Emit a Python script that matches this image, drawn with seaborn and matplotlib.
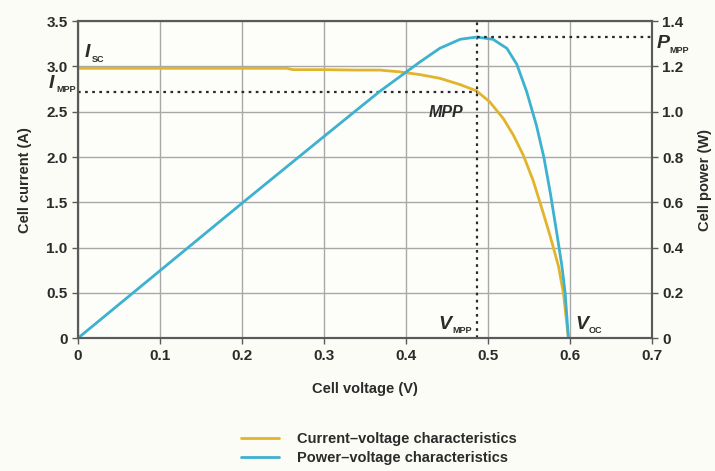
import matplotlib
matplotlib.use("Agg")
import matplotlib.pyplot as plt
import seaborn as sns
import pandas as pd

# ---- data ----
iv_voltage = [0, 0.1, 0.2, 0.255, 0.262, 0.3, 0.34, 0.368, 0.393, 0.417, 0.441, 0.466, 0.486,
              0.502, 0.519, 0.531, 0.543, 0.555, 0.565, 0.576, 0.586, 0.592, 0.598]
iv_current = [2.98, 2.98, 2.98, 2.98, 2.965, 2.965, 2.96, 2.96, 2.94, 2.91, 2.87, 2.80, 2.73,
              2.61, 2.42, 2.24, 2.02, 1.74, 1.45, 1.12, 0.79, 0.49, 0.0]

pv_voltage = [0, 0.1, 0.2, 0.3, 0.344, 0.368, 0.40, 0.417, 0.441, 0.466, 0.486, 0.506, 0.523,
              0.535, 0.547, 0.559, 0.568, 0.576, 0.584, 0.590, 0.594, 0.598]
pv_power = [0, 0.298, 0.596, 0.891, 1.02, 1.09, 1.175, 1.22, 1.28, 1.32, 1.33, 1.32, 1.28,
            1.21, 1.09, 0.94, 0.80, 0.64, 0.46, 0.32, 0.20, 0.0]

v_mpp = 0.486
i_mpp = 2.72
p_mpp = 1.33

x_ticks = [0, 0.1, 0.2, 0.3, 0.4, 0.5, 0.6, 0.7]
x_tick_labels = ["0", "0.1", "0.2", "0.3", "0.4", "0.5", "0.6", "0.7"]
i_ticks = [0, 0.5, 1.0, 1.5, 2.0, 2.5, 3.0, 3.5]
i_tick_labels = ["0", "0.5", "1.0", "1.5", "2.0", "2.5", "3.0", "3.5"]
p_ticks = [0, 0.2, 0.4, 0.6, 0.8, 1.0, 1.2, 1.4]
p_tick_labels = ["0", "0.2", "0.4", "0.6", "0.8", "1.0", "1.2", "1.4"]

iv_label = "Current\u2013voltage characteristics"
pv_label = "Power\u2013voltage characteristics"

# ---- style ----
sns.set_style("ticks")
FONT = ["Liberation Sans Narrow", "Liberation Sans", "DejaVu Sans"]
plt.rcParams["font.family"] = FONT
plt.rcParams["font.weight"] = "bold"

YELLOW = "#e2b42c"
BLUE = "#3db1d0"
GRID = "#a8a8a8"
SPINE = "#5a5a5a"
TXT = "#2b2b2b"
BG = "#fcfcf6"

fig = plt.figure(figsize=(7.15, 4.71), dpi=100, facecolor=BG)
ax = fig.add_axes([0.109, 0.282, 0.803, 0.673])
ax.set_facecolor("#fdfdf9")
ax2 = ax.twinx()

iv_df = pd.DataFrame({"V": iv_voltage, "I": iv_current})
pv_df = pd.DataFrame({"V": pv_voltage, "P": pv_power})

sns.lineplot(data=iv_df, x="V", y="I", ax=ax, color=YELLOW, linewidth=2.0,
             sort=False, label=iv_label, legend=False)
sns.lineplot(data=pv_df, x="V", y="P", ax=ax2, color=BLUE, linewidth=2.0,
             sort=False, label=pv_label, legend=False)

ax.set_xlim(0, 0.7)
ax.set_ylim(0, 3.5)
ax2.set_ylim(0, 1.4)

ax.set_xticks(x_ticks)
ax.set_xticklabels(x_tick_labels)
ax.set_yticks(i_ticks)
ax.set_yticklabels(i_tick_labels)
ax2.set_yticks(p_ticks)
ax2.set_yticklabels(p_tick_labels)

ax.grid(True, color=GRID, linewidth=1.0)
ax.set_axisbelow(True)
ax2.grid(False)

for a in (ax, ax2):
    for s in a.spines.values():
        s.set_color(SPINE)
        s.set_linewidth(1.5)
    a.tick_params(colors=SPINE, labelcolor=TXT, labelsize=11, length=4, width=1)
for lab in ax.get_xticklabels() + ax.get_yticklabels() + ax2.get_yticklabels():
    lab.set_fontweight("bold")

ax.set_xlabel("Cell voltage (V)", fontsize=10.5, fontweight="bold", color=TXT, labelpad=14)
ax.set_ylabel("Cell current (A)", fontsize=10.5, fontweight="bold", color=TXT, labelpad=10)
ax2.set_ylabel("Cell power (W)", fontsize=10.5, fontweight="bold", color=TXT, labelpad=10)

# ---- MPP guide lines ----
dot = dict(color="#2a2a2a", linewidth=1.6, linestyle=(0, (1.2, 2.0)))
ax.axvline(v_mpp, **dot)
ax.plot([0, v_mpp], [i_mpp, i_mpp], **dot)
ax2.plot([v_mpp, 0.7], [p_mpp, p_mpp], **dot)


# ---- annotations: italic bold letter + small subscript ----
def sym(a, x, y, letter, sub, dx):
    a.text(x, y, letter, fontsize=14, fontstyle="italic", fontweight="bold",
           color=TXT, ha="left", va="baseline", clip_on=False)
    a.annotate(sub, xy=(x, y), xycoords="data", xytext=(dx, -3), textcoords="offset points",
               fontsize=6.5, fontweight="bold", color=TXT, ha="left", va="baseline",
               annotation_clip=False)


sym(ax, 0.008, 3.1, "I", "SC", 5.5)
sym(ax, -0.036, 2.76, "I", "MPP", 5.5)
ax.text(0.449, 2.49, "MPP", fontsize=11.5, color=TXT, fontstyle="italic", fontweight="bold",
        ha="center", va="center")
sym(ax, 0.44, 0.1, "V", "MPP", 9.5)
sym(ax, 0.607, 0.1, "V", "OC", 9.5)
sym(ax2, 0.706, 1.28, "P", "MPP", 9)

# ---- legend ----
h1 = ax.get_lines()[0]
h2 = ax2.get_lines()[0]
leg = fig.legend([h1, h2], [iv_label, pv_label], loc="upper center",
                 bbox_to_anchor=(0.53, 0.11), frameon=False, fontsize=10.5,
                 handlelength=2.6, handletextpad=1.2, labelspacing=0.35)
for t in leg.get_texts():
    t.set_fontweight("bold")
    t.set_color(TXT)

fig.savefig("out.png", dpi=100, facecolor=BG)
